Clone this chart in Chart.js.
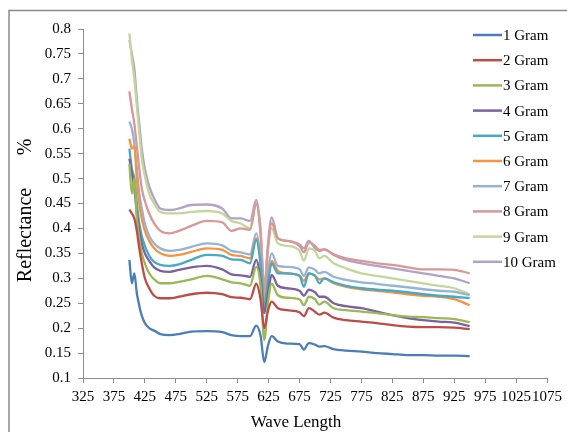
<!DOCTYPE html>
<html>
<head>
<meta charset="utf-8">
<script src="https://cdn.jsdelivr.net/npm/chart.js@4.4.1/dist/chart.umd.min.js"></script>
<style>
  html, body { margin: 0; padding: 0; background: #fff; }
  #wrap { width: 567px; height: 432px; position: relative; }
</style>
</head>
<body>
<div id="wrap"><canvas id="reflectanceChart" width="567" height="432"></canvas></div>
<script>
// wavelengths (nm) shared by every series
const waveLengths = [400, 404, 408, 412, 416, 420, 425, 432, 440, 450, 465, 480, 500, 525, 550, 565, 580, 595, 605, 612, 618, 624, 630, 640, 655, 675, 682, 690, 700, 707, 715, 730, 750, 775, 800, 825, 850, 875, 900, 925, 950];

const gram1 = [0.337, 0.29, 0.31, 0.27, 0.245, 0.225, 0.21, 0.2, 0.195, 0.188, 0.186, 0.188, 0.193, 0.194, 0.192, 0.186, 0.184, 0.184, 0.205, 0.185, 0.132, 0.165, 0.184, 0.173, 0.169, 0.168, 0.157, 0.17, 0.167, 0.163, 0.164, 0.158, 0.155, 0.153, 0.15, 0.148, 0.146, 0.146, 0.145, 0.145, 0.144];
const gram2 = [0.438, 0.43, 0.42, 0.395, 0.36, 0.33, 0.3, 0.28, 0.265, 0.26, 0.26, 0.263, 0.268, 0.271, 0.268, 0.262, 0.261, 0.258, 0.289, 0.258, 0.2, 0.235, 0.253, 0.24, 0.236, 0.232, 0.224, 0.24, 0.233, 0.227, 0.231, 0.221, 0.216, 0.213, 0.21, 0.206, 0.203, 0.202, 0.202, 0.201, 0.198];
const gram3 = [0.53, 0.47, 0.5, 0.42, 0.38, 0.35, 0.33, 0.31, 0.298, 0.29, 0.29, 0.293, 0.298, 0.305, 0.298, 0.292, 0.29, 0.285, 0.323, 0.285, 0.176, 0.25, 0.289, 0.266, 0.261, 0.258, 0.246, 0.263, 0.258, 0.247, 0.253, 0.24, 0.236, 0.233, 0.23, 0.226, 0.223, 0.222, 0.22, 0.218, 0.212];
const gram4 = [0.54, 0.51, 0.48, 0.43, 0.395, 0.37, 0.35, 0.335, 0.322, 0.315, 0.313, 0.317, 0.322, 0.325, 0.318, 0.308, 0.306, 0.303, 0.337, 0.297, 0.23, 0.27, 0.307, 0.285, 0.28, 0.275, 0.265, 0.277, 0.272, 0.263, 0.263, 0.25, 0.244, 0.24, 0.233, 0.226, 0.22, 0.216, 0.213, 0.211, 0.204];
const gram5 = [0.56, 0.52, 0.5, 0.45, 0.41, 0.385, 0.365, 0.345, 0.333, 0.327, 0.325, 0.328, 0.337, 0.347, 0.345, 0.338, 0.337, 0.33, 0.377, 0.33, 0.24, 0.29, 0.33, 0.31, 0.31, 0.305, 0.283, 0.31, 0.305, 0.29, 0.3, 0.292, 0.285, 0.28, 0.277, 0.275, 0.272, 0.268, 0.265, 0.263, 0.26];
const gram6 = [0.58, 0.56, 0.565, 0.5, 0.45, 0.42, 0.395, 0.375, 0.36, 0.35, 0.345, 0.347, 0.353, 0.36, 0.357, 0.347, 0.345, 0.34, 0.38, 0.33, 0.25, 0.3, 0.335, 0.315, 0.31, 0.305, 0.295, 0.31, 0.305, 0.298, 0.3, 0.29, 0.283, 0.278, 0.275, 0.272, 0.268, 0.265, 0.263, 0.258, 0.246];
const gram7 = [0.614, 0.6, 0.57, 0.52, 0.47, 0.44, 0.41, 0.385, 0.37, 0.36, 0.355, 0.357, 0.363, 0.37, 0.366, 0.355, 0.352, 0.348, 0.39, 0.345, 0.26, 0.315, 0.35, 0.325, 0.323, 0.318, 0.305, 0.322, 0.317, 0.31, 0.313, 0.303, 0.297, 0.292, 0.289, 0.285, 0.282, 0.278, 0.275, 0.273, 0.266];
const gram8 = [0.675, 0.64, 0.61, 0.565, 0.52, 0.48, 0.455, 0.43, 0.41, 0.395, 0.39, 0.395, 0.405, 0.415, 0.412, 0.395, 0.4, 0.397, 0.45, 0.39, 0.27, 0.36, 0.41, 0.38, 0.375, 0.365, 0.352, 0.372, 0.365, 0.357, 0.358, 0.348, 0.34, 0.335, 0.33, 0.327, 0.322, 0.318, 0.318, 0.317, 0.31];
const gram9 = [0.791, 0.74, 0.7, 0.645, 0.59, 0.54, 0.505, 0.47, 0.45, 0.433, 0.43, 0.43, 0.433, 0.435, 0.43, 0.415, 0.41, 0.4, 0.45, 0.39, 0.26, 0.36, 0.4, 0.37, 0.365, 0.355, 0.335, 0.36, 0.355, 0.34, 0.345, 0.33, 0.32, 0.31, 0.305, 0.3, 0.295, 0.29, 0.285, 0.28, 0.268];
const gram10 = [0.778, 0.75, 0.72, 0.66, 0.61, 0.56, 0.52, 0.485, 0.46, 0.44, 0.437, 0.44, 0.447, 0.448, 0.44, 0.42, 0.42, 0.415, 0.457, 0.4, 0.28, 0.37, 0.422, 0.38, 0.375, 0.368, 0.36, 0.375, 0.36, 0.355, 0.358, 0.347, 0.337, 0.33, 0.325, 0.32, 0.315, 0.31, 0.305, 0.3, 0.29];

const seriesLabels = ["1 Gram", "2 Gram", "3 Gram", "4 Gram", "5 Gram", "6 Gram", "7 Gram", "8 Gram", "9 Gram", "10 Gram"];
const seriesValues = [gram1, gram2, gram3, gram4, gram5, gram6, gram7, gram8, gram9, gram10];
const seriesColors = ["#4A7EBB", "#BE4B48", "#98B954", "#7D60A0", "#46AAC5", "#F69240", "#95B3D7", "#D99795", "#C3D69B", "#B3A2C7"];

const xTickMin = 325, xTickMax = 1075, xTickStep = 50;
const yTickMin = 0.1, yTickMax = 0.8, yTickStep = 0.05;

const serif = "'Liberation Serif', 'Times New Roman', serif";

// frame, axis titles and the legend drawn by hand so they sit where Excel put them
const decorations = {
  id: "decorations",
  beforeDraw(chart) {
    const ctx = chart.ctx;
    ctx.save();
    ctx.strokeStyle = "#8a8a8a";
    ctx.lineWidth = 1.5;
    ctx.beginPath();
    ctx.moveTo(9, 432);
    ctx.lineTo(9, 10.5);
    ctx.lineTo(567, 10.5);
    ctx.stroke();
    ctx.restore();
  },
  afterDraw(chart) {
    const ctx = chart.ctx;
    ctx.save();
    ctx.fillStyle = "#000";
    ctx.textAlign = "center";
    ctx.textBaseline = "middle";

    ctx.font = "17px " + serif;
    ctx.fillText("Wave Length", 296, 423);

    ctx.save();
    ctx.translate(26, 0);
    ctx.rotate(-Math.PI / 2);
    ctx.font = "20px " + serif;
    ctx.fillText("Reflectance", -235, 0);
    ctx.fillText("%", -147, 0);
    ctx.restore();

    ctx.font = "15px " + serif;
    ctx.textAlign = "left";
    chart.data.datasets.forEach((ds, i) => {
      const y = 35 + i * 25.2;
      ctx.strokeStyle = ds.borderColor;
      ctx.lineWidth = 2.5;
      ctx.beginPath();
      ctx.moveTo(473, y);
      ctx.lineTo(502, y);
      ctx.stroke();
      ctx.fillText(ds.label, 503, y + 1);
    });
    ctx.restore();
  }
};

const ctx = document.getElementById("reflectanceChart").getContext("2d");

new Chart(ctx, {
  type: "line",
  data: {
    datasets: seriesLabels.map((label, i) => ({
      label: label,
      data: waveLengths.map((w, j) => ({ x: w, y: seriesValues[i][j] })),
      borderColor: seriesColors[i],
      backgroundColor: seriesColors[i],
      borderWidth: 2.3,
      pointRadius: 0,
      cubicInterpolationMode: "monotone",
      fill: false
    }))
  },
  options: {
    responsive: false,
    animation: false,
    layout: { padding: { left: 0, top: 29, right: 14, bottom: 0 } },
    plugins: {
      legend: { display: false },
      tooltip: { enabled: false }
    },
    scales: {
      x: {
        type: "linear",
        min: xTickMin,
        max: xTickMax,
        afterFit(scale) { scale.height = 54; },
        ticks: {
          stepSize: xTickStep,
          autoSkip: false,
          maxRotation: 0,
          minRotation: 0,
          padding: 5,
          color: "#000",
          font: { family: serif, size: 15 },
          callback: (v) => String(v)
        },
        grid: { drawOnChartArea: false, tickLength: 5, color: "#8c8c8c" },
        border: { color: "#8c8c8c" }
      },
      y: {
        min: yTickMin,
        max: yTickMax,
        afterFit(scale) { scale.width = 83; },
        ticks: {
          stepSize: yTickStep,
          padding: 7,
          color: "#000",
          font: { family: serif, size: 15 },
          callback: (v) => String(Number(v.toFixed(2)))
        },
        grid: { drawOnChartArea: false, tickLength: 5, color: "#8c8c8c" },
        border: { color: "#8c8c8c" }
      }
    }
  },
  plugins: [decorations]
});
</script>
</body>
</html>
